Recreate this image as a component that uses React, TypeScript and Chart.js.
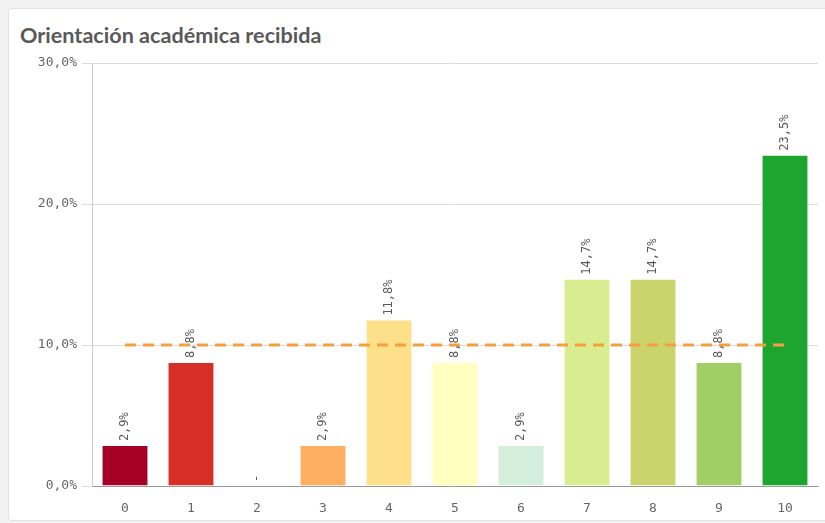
import React, { useEffect, useRef } from "react";
import { Chart, registerables } from "chart.js";

Chart.register(...registerables);

const categories = ["0", "1", "2", "3", "4", "5", "6", "7", "8", "9", "10"];
const values = [2.9, 8.8, 0, 2.9, 11.8, 8.8, 2.9, 14.7, 14.7, 8.8, 23.5];
const averageValue = 10;
const barColors = [
  "#a50026", "#d62f27", "#f46d43", "#fdae61", "#fee08b", "#ffffbf",
  "#d3eedb", "#d9ec8f", "#cbd46b", "#a1cf65", "#1ea530",
];
const yTicks = [0, 10, 20, 30];
const titleText = "Orientación académica recibida";

const fmt = (v: number) => v.toFixed(1).replace(".", ",") + "%";

const labelPlugin = {
  id: "barLabels",
  afterDatasetsDraw(chart: any) {
    const ctx = chart.ctx;
    const meta = chart.getDatasetMeta(0);
    ctx.save();
    ctx.font = "12px 'DejaVu Sans Mono'";
    ctx.fillStyle = "#595959";
    ctx.textAlign = "left";
    ctx.textBaseline = "middle";
    meta.data.forEach((el: any, i: number) => {
      const v = values[i];
      const txt = v === 0 ? "-" : fmt(v);
      ctx.save();
      ctx.translate(el.x, el.y - 4);
      ctx.rotate(-Math.PI / 2);
      ctx.fillText(txt, 0, 0);
      ctx.restore();
    });
    ctx.restore();
  },
};

export default function App() {
  const ref = useRef<HTMLCanvasElement>(null);
  useEffect(() => {
    const chart = new Chart(ref.current!, {
      type: "bar",
      data: {
        labels: categories,
        datasets: [
          {
            type: "bar",
            data: values,
            backgroundColor: barColors,
            borderColor: "rgba(255,255,255,0.5)",
            borderWidth: 1,
            categoryPercentage: 1,
            barPercentage: 0.71,
            order: 2,
          } as any,
          {
            type: "line",
            data: categories.map(() => averageValue),
            borderColor: "#f5a03c",
            borderWidth: 3,
            borderDash: [11, 7],
            pointRadius: 0,
            fill: false,
            order: 1,
          } as any,
        ],
      },
      options: {
        animation: false,
        responsive: false,
        maintainAspectRatio: false,
        layout: { padding: { left: 0, top: 63, right: 7, bottom: 0 } },
        plugins: {
          legend: { display: false },
          tooltip: { enabled: false },
          title: { display: false },
        },
        scales: {
          x: {
            grid: { display: false },
            border: { color: "#9a9a9a", width: 1 },
            ticks: {
              color: "#666",
              font: { family: "'DejaVu Sans Mono'", size: 13 },
              padding: 7,
            },
            afterFit: (s: any) => {
              s.height = 37;
            },
          },
          y: {
            min: 0,
            max: 30,
            afterBuildTicks: (s: any) => {
              s.ticks = yTicks.map((v) => ({ value: v }));
            },
            grid: {
              color: "#dcdcdc",
              tickLength: 10,
              lineWidth: 1,
            },
            border: { color: "#cfcfcf", width: 1 },
            ticks: {
              color: "#666",
              font: { family: "'DejaVu Sans Mono'", size: 13 },
              padding: 5,
              callback: (v: any) => fmt(Number(v)),
            },
            afterFit: (s: any) => {
              s.width = 92;
            },
          },
        },
      },
      plugins: [labelPlugin],
    });
    return () => chart.destroy();
  }, []);

  return (
    <div
      style={{
        position: "absolute",
        left: 0,
        top: 0,
        width: 825,
        height: 523,
        background: "#f2f2f2",
        overflow: "hidden",
      }}
    >
      <div
        style={{
          position: "absolute",
          left: 8,
          top: 8,
          width: 900,
          height: 511,
          background: "#fff",
          border: "1px solid #e2e2e2",
          borderRadius: 4,
        }}
      />
      <div
        style={{
          position: "absolute",
          left: 20,
          top: 22,
          lineHeight: "26px",
          fontFamily: "Lato, 'Open Sans', sans-serif",
          fontWeight: 700,
          fontSize: 21.6,
          color: "#595959",
          whiteSpace: "nowrap",
        }}
      >
        {titleText}
      </div>
      <canvas
        ref={ref}
        width={825}
        height={523}
        style={{ position: "absolute", left: 0, top: 0, width: 825, height: 523 }}
      />
    </div>
  );
}
